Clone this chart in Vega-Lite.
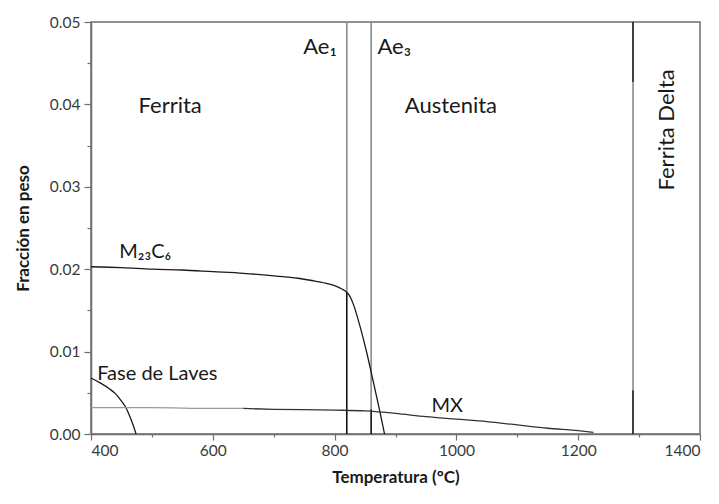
{
  "$schema": "https://vega.github.io/schema/vega-lite/v6.json",
  "width": 609,
  "height": 412,
  "autosize": {"type": "none"},
  "padding": {"left": 91, "top": 22, "right": 19, "bottom": 70},
  "background": "white",
  "config": {
    "font": "Lato",
    "view": {"stroke": "#6e6e6e", "strokeWidth": 1.5},
    "axis": {"domainColor": "#6e6e6e", "domainWidth": 1.5, "tickColor": "#6e6e6e", "tickWidth": 1.2, "grid": false, "labelFont": "Lato", "labelFontSize": 15.5, "labelColor": "#3a3a3a", "titleFont": "Lato", "titleFontSize": 17, "titleFontWeight": "bold", "titleColor": "#1a1a1a"}
  },
  "datasets": {
    "curvas": [
      {"fase": "M23C6", "T": 400, "f": 0.0203},
      {"fase": "M23C6", "T": 450, "f": 0.0202},
      {"fase": "M23C6", "T": 500, "f": 0.0200},
      {"fase": "M23C6", "T": 550, "f": 0.0199},
      {"fase": "M23C6", "T": 600, "f": 0.0197},
      {"fase": "M23C6", "T": 650, "f": 0.0195},
      {"fase": "M23C6", "T": 700, "f": 0.0192},
      {"fase": "M23C6", "T": 740, "f": 0.0189},
      {"fase": "M23C6", "T": 765, "f": 0.0186},
      {"fase": "M23C6", "T": 785, "f": 0.0183},
      {"fase": "M23C6", "T": 800, "f": 0.0180},
      {"fase": "M23C6", "T": 812, "f": 0.0176},
      {"fase": "M23C6", "T": 820, "f": 0.0172},
      {"fase": "M23C6", "T": 826, "f": 0.0166},
      {"fase": "M23C6", "T": 831, "f": 0.0157},
      {"fase": "M23C6", "T": 842, "f": 0.0130},
      {"fase": "M23C6", "T": 853, "f": 0.0098},
      {"fase": "M23C6", "T": 864, "f": 0.0062},
      {"fase": "M23C6", "T": 875, "f": 0.0025},
      {"fase": "M23C6", "T": 882, "f": 0.0},
      {"fase": "Laves", "T": 400, "f": 0.0068},
      {"fase": "Laves", "T": 415, "f": 0.0062},
      {"fase": "Laves", "T": 430, "f": 0.0055},
      {"fase": "Laves", "T": 440, "f": 0.0049},
      {"fase": "Laves", "T": 450, "f": 0.0040},
      {"fase": "Laves", "T": 458, "f": 0.0031},
      {"fase": "Laves", "T": 465, "f": 0.0019},
      {"fase": "Laves", "T": 470, "f": 0.0009},
      {"fase": "Laves", "T": 474, "f": 0.0},
      {"fase": "MX a", "T": 400, "f": 0.0032},
      {"fase": "MX a", "T": 500, "f": 0.0032},
      {"fase": "MX a", "T": 600, "f": 0.0031},
      {"fase": "MX a", "T": 650, "f": 0.0031},
      {"fase": "MX b", "T": 650, "f": 0.0031},
      {"fase": "MX b", "T": 700, "f": 0.0030},
      {"fase": "MX b", "T": 800, "f": 0.0029},
      {"fase": "MX b", "T": 850, "f": 0.0028},
      {"fase": "MX b", "T": 900, "f": 0.0025},
      {"fase": "MX b", "T": 950, "f": 0.0021},
      {"fase": "MX b", "T": 1000, "f": 0.0018},
      {"fase": "MX b", "T": 1050, "f": 0.0015},
      {"fase": "MX b", "T": 1100, "f": 0.0011},
      {"fase": "MX b", "T": 1150, "f": 0.0007},
      {"fase": "MX b", "T": 1200, "f": 0.0004},
      {"fase": "MX b", "T": 1225, "f": 0.0002}
    ],
    "lineas": [
      {"linea": "Ae1", "tramo": "claro", "T": 820, "f1": 0.0172, "f2": 0.05},
      {"linea": "Ae1", "tramo": "oscuro", "T": 820, "f1": 0.0, "f2": 0.0172},
      {"linea": "Ae3", "tramo": "claro", "T": 860, "f1": 0.003, "f2": 0.05},
      {"linea": "Ae3", "tramo": "oscuro", "T": 860, "f1": 0.0, "f2": 0.003},
      {"linea": "Delta", "tramo": "oscuro", "T": 1290, "f1": 0.0427, "f2": 0.05},
      {"linea": "Delta", "tramo": "claro", "T": 1290, "f1": 0.0053, "f2": 0.0427},
      {"linea": "Delta", "tramo": "oscuro", "T": 1290, "f1": 0.0, "f2": 0.0053}
    ],
    "regiones": [
      {"texto": "Ferrita", "T": 530, "f": 0.0398},
      {"texto": "Austenita", "T": 991, "f": 0.0398},
      {"texto": "Ae₁", "T": 776, "f": 0.0470},
      {"texto": "Ae₃", "T": 898, "f": 0.0470}
    ],
    "etiquetas": [
      {"texto": "M₂₃C₆", "T": 489, "f": 0.0221},
      {"texto": "Fase de Laves", "T": 509, "f": 0.0073},
      {"texto": "MX", "T": 985, "f": 0.0034}
    ],
    "vertical": [
      {"texto": "Ferrita Delta", "T": 1346, "f": 0.0369}
    ],
    "menores": [
      {"T": 500, "f": 0.005}
    ]
  },
  "layer": [
    {
      "data": {"name": "lineas"},
      "mark": {"type": "rule", "strokeWidth": 1.6},
      "encoding": {
        "x": {"field": "T", "type": "quantitative", "scale": {"domain": [400, 1400], "nice": false, "zero": false},
              "axis": {"values": [400, 600, 800, 1000, 1200, 1400], "format": "d", "tickSize": 6, "labelPadding": 3, "title": "Temperatura (°C)", "titlePadding": 11, "orient": "bottom"}},
        "y": {"field": "f1", "type": "quantitative", "scale": {"domain": [0, 0.05], "nice": false},
              "axis": {"values": [0, 0.01, 0.02, 0.03, 0.04, 0.05], "format": ".2f", "tickSize": 7, "labelPadding": 4, "title": "Fracción en peso", "titlePadding": 17, "orient": "left"}},
        "y2": {"field": "f2"},
        "color": {"field": "tramo", "type": "nominal", "scale": {"domain": ["claro", "oscuro"], "range": ["#8a8a8a", "#111111"]}, "legend": null},
        "detail": {"field": "linea"}
      }
    },
    {
      "data": {"name": "menores"},
      "mark": {"type": "point", "opacity": 0},
      "encoding": {
        "x": {"field": "T", "type": "quantitative", "axis": {"values": [500, 700, 900, 1100, 1300], "labels": false, "domain": false, "tickSize": 3, "title": null, "orient": "bottom"}},
        "y": {"field": "f", "type": "quantitative", "axis": {"values": [0.005, 0.015, 0.025, 0.035, 0.045], "labels": false, "domain": false, "tickSize": 4, "title": null, "orient": "left"}}
      }
    },
    {
      "data": {"name": "curvas"},
      "mark": {"type": "line", "strokeWidth": 1.3, "interpolate": "monotone"},
      "encoding": {
        "x": {"field": "T", "type": "quantitative", "axis": null},
        "y": {"field": "f", "type": "quantitative", "axis": null},
        "stroke": {"field": "fase", "type": "nominal", "scale": {"domain": ["M23C6", "Laves", "MX a", "MX b"], "range": ["#1a1a1a", "#1a1a1a", "#9a9a9a", "#333333"]}, "legend": null}
      }
    },
    {
      "data": {"name": "regiones"},
      "mark": {"type": "text", "fontSize": 22, "font": "Lato", "color": "#1a1a1a", "align": "center", "baseline": "middle"},
      "encoding": {
        "x": {"field": "T", "type": "quantitative", "axis": null},
        "y": {"field": "f", "type": "quantitative", "axis": null},
        "text": {"field": "texto"}
      }
    },
    {
      "data": {"name": "etiquetas"},
      "mark": {"type": "text", "fontSize": 20, "font": "Lato", "color": "#1a1a1a", "align": "center", "baseline": "middle"},
      "encoding": {
        "x": {"field": "T", "type": "quantitative", "axis": null},
        "y": {"field": "f", "type": "quantitative", "axis": null},
        "text": {"field": "texto"}
      }
    },
    {
      "data": {"name": "vertical"},
      "mark": {"type": "text", "fontSize": 22, "font": "Lato", "color": "#1a1a1a", "align": "center", "baseline": "middle", "angle": 270},
      "encoding": {
        "x": {"field": "T", "type": "quantitative", "axis": null},
        "y": {"field": "f", "type": "quantitative", "axis": null},
        "text": {"field": "texto"}
      }
    }
  ],
  "resolve": {"axis": {"x": "independent", "y": "independent"}}
}
